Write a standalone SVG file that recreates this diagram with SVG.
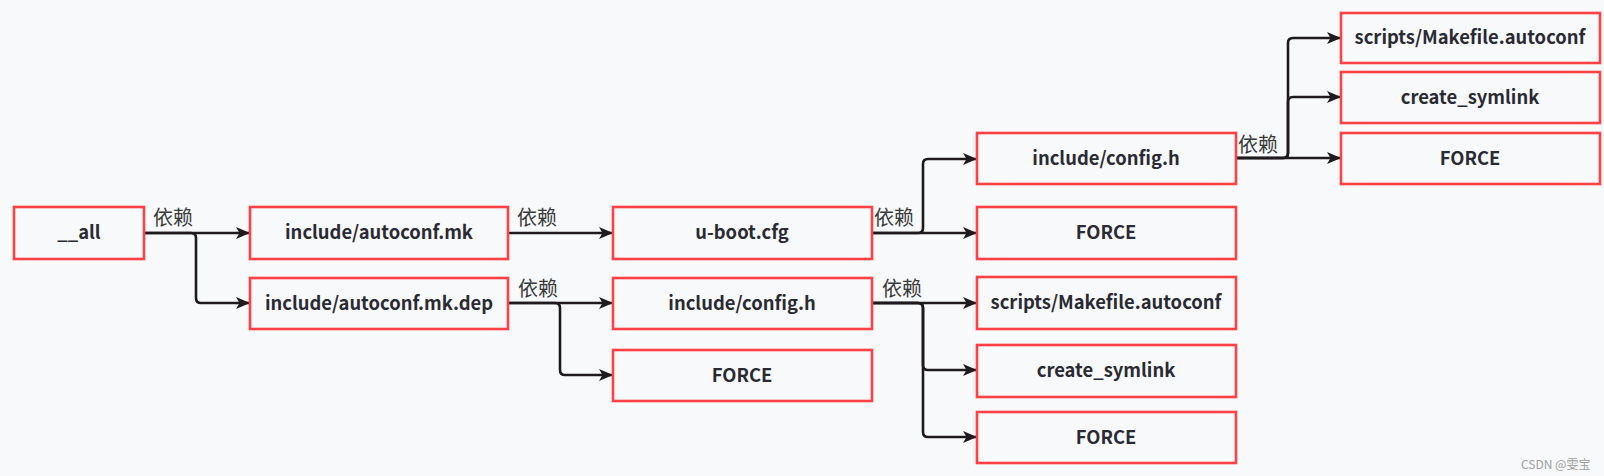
<svg xmlns="http://www.w3.org/2000/svg" width="1604" height="476" viewBox="0 0 1604 476">
<defs>
<style>
.box{fill:#f8f9fa;stroke:#ff4146;stroke-width:2.6}
.t{font-family:"Noto Sans CJK SC","Noto Sans",sans-serif;font-size:18.4px;font-weight:600;fill:#2a2a33;text-anchor:middle}
.lbl{font-family:"Noto Sans CJK SC",sans-serif;font-size:20px;fill:#3a3a3a}
.c{fill:none;stroke:#1e1a1e;stroke-width:2.6;stroke-linejoin:round}
.wm{font-family:"Noto Sans CJK SC",sans-serif;font-size:12px;fill:#a0a0a0}
</style>
<marker id="arr" markerUnits="userSpaceOnUse" markerWidth="14" markerHeight="12" refX="13" refY="6" orient="auto" viewBox="0 0 14 12">
<path d="M0,0 L14,6 L0,12 L3.5,6 Z" fill="#1e1a1e"/>
</marker>
</defs>
<rect width="1604" height="476" fill="#f8f9fa"/>
<g id="connectors">
<path class="c" marker-end="url(#arr)" d="M144,233 H249"/>
<path class="c" marker-end="url(#arr)" d="M144,233 H191 Q196,233 196,238 V298 Q196,303 201,303 H249"/>
<path class="c" marker-end="url(#arr)" d="M508,233 H612"/>
<path class="c" marker-end="url(#arr)" d="M508,303 H612"/>
<path class="c" marker-end="url(#arr)" d="M508,303 H555 Q560,303 560,308 V370 Q560,375 565,375 H612"/>
<path class="c" marker-end="url(#arr)" d="M872,233 H976"/>
<path class="c" marker-end="url(#arr)" d="M872,233 H918 Q923,233 923,228 V164 Q923,159 928,159 H976"/>
<path class="c" marker-end="url(#arr)" d="M1236,158 H1340"/>
<path class="c" marker-end="url(#arr)" d="M1236,158 H1283 Q1288,158 1288,153 V102 Q1288,97 1293,97 H1340"/>
<path class="c" marker-end="url(#arr)" d="M1236,158 H1283 Q1288,158 1288,153 V43 Q1288,38 1293,38 H1340"/>
<path class="c" marker-end="url(#arr)" d="M872,303 H976"/>
<path class="c" marker-end="url(#arr)" d="M872,303 H918 Q923,303 923,308 V365 Q923,370 928,370 H976"/>
<path class="c" marker-end="url(#arr)" d="M872,303 H918 Q923,303 923,308 V432 Q923,437 928,437 H976"/>
<text class="lbl" x="153" y="225">依赖</text>
<text class="lbl" x="517" y="225">依赖</text>
<text class="lbl" x="518" y="296">依赖</text>
<text class="lbl" x="874" y="225">依赖</text>
<text class="lbl" x="882" y="296">依赖</text>
<text class="lbl" x="1238" y="152">依赖</text>
</g>
<g id="n_all"><rect class="box" x="14" y="207" width="130" height="52"/><text class="t" x="79" y="239">__all</text></g>
<g id="n_autoconf_mk"><rect class="box" x="250" y="207" width="258" height="52"/><text class="t" x="379" y="239">include/autoconf.mk</text></g>
<g id="n_autoconf_dep"><rect class="box" x="250" y="278" width="258" height="51"/><text class="t" x="379" y="310">include/autoconf.mk.dep</text></g>
<g id="n_uboot_cfg"><rect class="box" x="613" y="207" width="259" height="52"/><text class="t" x="742" y="239">u-boot.cfg</text></g>
<g id="n_config_h2"><rect class="box" x="613" y="278" width="259" height="51"/><text class="t" x="742" y="310">include/config.h</text></g>
<g id="n_force2"><rect class="box" x="613" y="350" width="259" height="51"/><text class="t" x="742" y="382">FORCE</text></g>
<g id="n_config_h1"><rect class="box" x="977" y="133" width="259" height="51"/><text class="t" x="1106" y="165">include/config.h</text></g>
<g id="n_force1"><rect class="box" x="977" y="207" width="259" height="52"/><text class="t" x="1106" y="239">FORCE</text></g>
<g id="n_scripts2"><rect class="box" x="977" y="277" width="259" height="52"/><text class="t" x="1106" y="309">scripts/Makefile.autoconf</text></g>
<g id="n_symlink2"><rect class="box" x="977" y="345" width="259" height="52"/><text class="t" x="1106" y="377">create_symlink</text></g>
<g id="n_force3"><rect class="box" x="977" y="412" width="259" height="51"/><text class="t" x="1106" y="444">FORCE</text></g>
<g id="n_scripts1"><rect class="box" x="1341" y="13" width="259" height="50"/><text class="t" x="1470" y="44">scripts/Makefile.autoconf</text></g>
<g id="n_symlink1"><rect class="box" x="1341" y="72" width="259" height="51"/><text class="t" x="1470" y="104">create_symlink</text></g>
<g id="n_force4"><rect class="box" x="1341" y="133" width="259" height="51"/><text class="t" x="1470" y="165">FORCE</text></g>
<text class="wm" x="1521" y="469">CSDN @雯宝</text>
</svg>
